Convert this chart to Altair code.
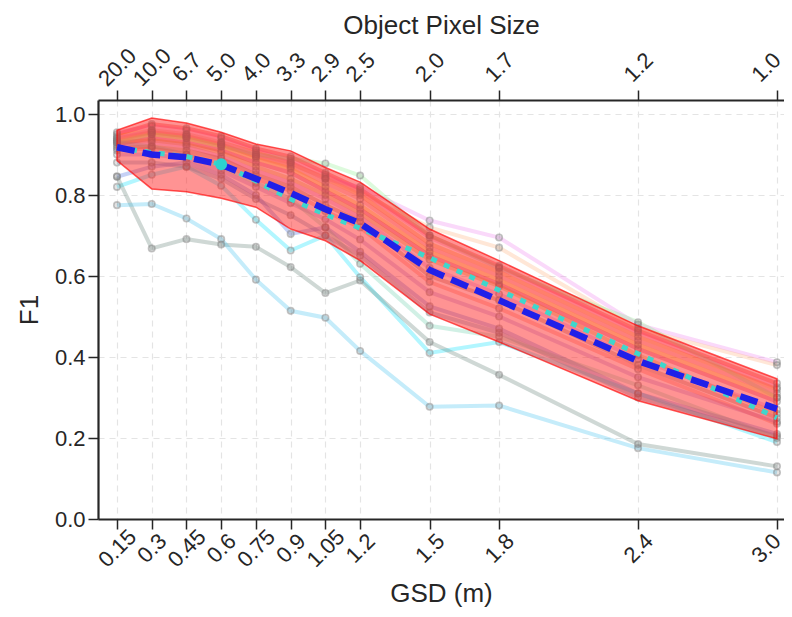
import altair as alt
import pandas as pd

# ---------------- data ----------------
gsd = [0.15, 0.3, 0.45, 0.6, 0.75, 0.9, 1.05, 1.2, 1.5, 1.8, 2.4, 3.0]
gsd_labels = ["0.15", "0.3", "0.45", "0.6", "0.75", "0.9", "1.05", "1.2", "1.5", "1.8", "2.4", "3.0"]
pixel_labels = ["20.0", "10.0", "6.7", "5.0", "4.0", "3.3", "2.9", "2.5", "2.0", "1.7", "1.2", "1.0"]
y_ticks = [0.0, 0.2, 0.4, 0.6, 0.8, 1.0]

s_red = [0.950, 0.975, 0.965, 0.945, 0.915, 0.895, 0.855, 0.815, 0.700, 0.625, 0.465, 0.335]
s_hotpink = [0.955, 0.970, 0.960, 0.940, 0.910, 0.885, 0.850, 0.810, 0.695, 0.620, 0.460, 0.325]
s_orange = [0.945, 0.960, 0.950, 0.930, 0.905, 0.880, 0.840, 0.800, 0.680, 0.610, 0.450, 0.320]
s_salmon = [0.940, 0.955, 0.945, 0.925, 0.895, 0.870, 0.830, 0.790, 0.670, 0.600, 0.440, 0.310]
s_gold = [0.935, 0.950, 0.940, 0.920, 0.890, 0.865, 0.820, 0.775, 0.660, 0.590, 0.430, 0.300]
s_crimson = [0.925, 0.940, 0.930, 0.910, 0.880, 0.855, 0.810, 0.765, 0.650, 0.580, 0.420, 0.290]
s_goldenrod = [0.930, 0.935, 0.925, 0.905, 0.870, 0.840, 0.800, 0.755, 0.640, 0.575, 0.405, 0.260]
s_orchid = [0.920, 0.930, 0.920, 0.895, 0.860, 0.830, 0.790, 0.745, 0.620, 0.555, 0.395, 0.270]
s_sienna = [0.915, 0.920, 0.910, 0.890, 0.850, 0.820, 0.775, 0.735, 0.600, 0.540, 0.380, 0.250]
s_tomato = [0.910, 0.915, 0.900, 0.880, 0.840, 0.810, 0.760, 0.720, 0.585, 0.520, 0.370, 0.235]
s_purple = [0.900, 0.900, 0.890, 0.860, 0.820, 0.780, 0.740, 0.690, 0.560, 0.500, 0.350, 0.240]
s_steel = [0.880, 0.880, 0.870, 0.840, 0.790, 0.750, 0.700, 0.650, 0.510, 0.460, 0.300, 0.205]
s_blue = [0.845, 0.870, 0.880, 0.850, 0.800, 0.704, 0.720, 0.660, 0.525, 0.470, 0.310, 0.210]
s_violet = [0.940, 0.960, 0.950, 0.930, 0.900, 0.880, 0.840, 0.820, 0.737, 0.695, 0.480, 0.387]
s_peach = [0.935, 0.955, 0.945, 0.925, 0.895, 0.875, 0.845, 0.805, 0.720, 0.670, 0.470, 0.380]
s_lightgreen = [0.930, 0.950, 0.940, 0.920, 0.900, 0.890, 0.878, 0.848, 0.700, 0.620, 0.486, 0.300]
s_aqua = [0.930, 0.920, 0.900, 0.870, 0.830, 0.790, 0.720, 0.630, 0.477, 0.450, 0.330, 0.200]
s_cyan = [0.820, 0.850, 0.870, 0.823, 0.739, 0.663, 0.700, 0.597, 0.410, 0.437, 0.310, 0.190]
s_slate = [0.846, 0.668, 0.691, 0.678, 0.672, 0.622, 0.558, 0.589, 0.437, 0.356, 0.185, 0.130]
s_skyblue = [0.775, 0.778, 0.742, 0.691, 0.591, 0.514, 0.497, 0.415, 0.277, 0.280, 0.175, 0.115]

series = {
    "red": s_red, "hotpink": s_hotpink, "orange": s_orange, "salmon": s_salmon,
    "gold": s_gold, "crimson": s_crimson, "goldenrod": s_goldenrod, "orchid": s_orchid,
    "sienna": s_sienna, "tomato": s_tomato, "purple": s_purple, "steel": s_steel,
    "blue": s_blue, "violet": s_violet, "peach": s_peach, "lightgreen": s_lightgreen,
    "aqua": s_aqua, "cyan": s_cyan, "slate": s_slate, "skyblue": s_skyblue,
}
series_colors = {
    "red": "#ff0000", "hotpink": "#ff69b4", "orange": "#ff8c00", "salmon": "#fa8072",
    "gold": "#ffd700", "crimson": "#dc143c", "goldenrod": "#daa520", "orchid": "#da70d6",
    "sienna": "#a0522d", "tomato": "#ff6347", "purple": "#9370db", "steel": "#4682b4",
    "blue": "#4169e1", "violet": "#ee82ee", "peach": "#ffb07c", "lightgreen": "#90ee90",
    "aqua": "#66cdaa", "cyan": "#00e0ff", "slate": "#5f7f75", "skyblue": "#40c0f0",
}

band_upper = [0.960, 0.990, 0.978, 0.955, 0.926, 0.909, 0.868, 0.832, 0.716, 0.638, 0.477, 0.346]
band_lower = [0.885, 0.815, 0.808, 0.792, 0.770, 0.716, 0.687, 0.638, 0.506, 0.437, 0.292, 0.198]
mean_f1 = [0.918, 0.900, 0.893, 0.875, 0.840, 0.805, 0.765, 0.730, 0.615, 0.540, 0.390, 0.272]
median_f1 = [0.916, 0.905, 0.895, 0.876, 0.835, 0.790, 0.752, 0.718, 0.645, 0.565, 0.408, 0.250]
highlight_gsd = 0.6

# ---------------- frames ----------------
rows = []
for name, vals in series.items():
    for g, v in zip(gsd, vals):
        rows.append({"gsd": g, "f1": v, "model": name})
df_lines = pd.DataFrame(rows)

df_stats = pd.DataFrame({"gsd": gsd, "upper": band_upper, "lower": band_lower,
                         "mean": mean_f1, "median": median_f1})
df_dot = df_stats[df_stats["gsd"] == highlight_gsd]

models = list(series.keys())
colors = [series_colors[m] for m in models]


def label_expr(values, labels):
    parts = [f"datum.value == {v} ? '{l}'" for v, l in zip(values, labels)]
    return " : ".join(parts) + " : ''"


INK = "#262626"
FONT = "Liberation Sans"
x_domain = [0.068, 3.0303]
y_domain = [0.0, 1.0346]

x_scale = alt.Scale(domain=x_domain, nice=False, zero=False)
y_scale = alt.Scale(domain=y_domain, nice=False, zero=False)

last_tick_test = f"datum.value == {gsd[-1]}"

x_axis = alt.Axis(values=gsd, labelExpr=label_expr(gsd, gsd_labels), labelAngle=315,
                  labelAlign="center", labelBaseline="middle", labelPadding=19,
                  labelOffset={"condition": {"test": last_tick_test, "value": -11}, "value": 0},
                  labelOverlap=False, tickSize=10, grid=True, gridDash=[6, 5],
                  gridColor="#e4e4e4", gridWidth=1.2, titlePadding=10)
y_axis = alt.Axis(values=y_ticks, format=".1f", tickSize=10, labelPadding=3, grid=True,
                  gridDash=[6, 5], gridColor="#e4e4e4", gridWidth=1.2, titlePadding=12)


def X():
    return alt.X("gsd:Q", scale=x_scale, axis=x_axis, title="GSD (m)")


def Y(field):
    return alt.Y(f"{field}:Q", scale=y_scale, axis=y_axis, title="F1")


lines = alt.Chart(df_lines).mark_line(strokeWidth=4, opacity=0.3).encode(
    x=X(), y=Y("f1"),
    color=alt.Color("model:N", scale=alt.Scale(domain=models, range=colors), legend=None),
)
points = alt.Chart(df_lines).mark_point(
    shape="circle", size=42, filled=True, fill="gray", fillOpacity=0.22,
    stroke="gray", strokeOpacity=0.45, strokeWidth=1.6
).encode(x=X(), y=Y("f1"), detail="model:N")

band = alt.Chart(df_stats).mark_area(
    color="#ff1a1a", fillOpacity=0.47, stroke="red", strokeOpacity=0.65, strokeWidth=1.5
).encode(x=X(), y=Y("upper"), y2="lower:Q")

median_line = alt.Chart(df_stats).mark_line(
    color="#3fd6cc", strokeWidth=5, strokeDash=[6, 8]
).encode(x=X(), y=Y("median"))

mean_line = alt.Chart(df_stats).mark_line(
    color="#2020e8", strokeWidth=6.5, strokeDash=[18, 8]
).encode(x=X(), y=Y("mean"))

dot = alt.Chart(df_dot).mark_circle(size=140, color="#2cd3cf", opacity=1).encode(
    x=X(), y=Y("median")
)

main = alt.layer(lines, points, band, median_line, mean_line, dot)

top_axis = alt.Axis(orient="top", values=gsd, labelExpr=label_expr(gsd, pixel_labels),
                    labelAngle=315, labelAlign="center", labelBaseline="middle",
                    labelPadding=23,
                    labelOffset={"condition": {"test": last_tick_test, "value": -11}, "value": 0},
                    labelOverlap=False, tickSize=10, grid=False, titlePadding=6)
top = alt.Chart(df_stats).mark_point(opacity=0).encode(
    x=alt.X("gsd:Q", scale=x_scale, axis=top_axis, title="Object Pixel Size"),
    y=Y("mean"),
)

chart = alt.layer(main, top).resolve_scale(x="independent").properties(
    width=686, height=419,
    autosize=alt.AutoSizeParams(type="none"),
    padding={"left": 90, "top": 92, "right": 0, "bottom": 90},
).configure_view(stroke=None).configure_axis(
    labelFont=FONT, titleFont=FONT, labelFontSize=22, titleFontSize=26,
    titleFontWeight="normal", labelColor=INK, titleColor=INK,
    domainColor=INK, domainWidth=2.2, tickColor=INK, tickWidth=1.5,
)

chart.save("out.html", embed_options={"renderer": "svg", "actions": False})
